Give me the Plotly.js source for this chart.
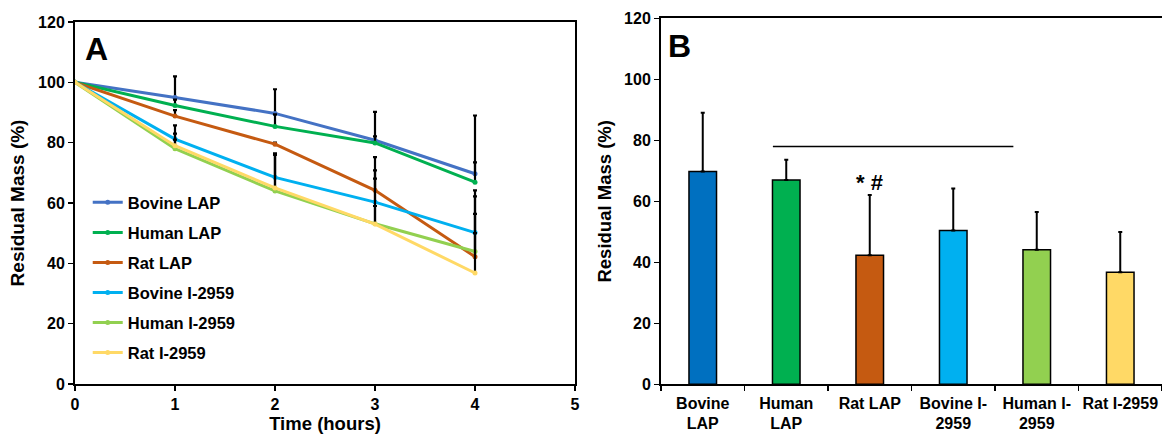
<!DOCTYPE html>
<html>
<head>
<meta charset="utf-8">
<script src="https://cdn.plot.ly/plotly-3.0.1.min.js"></script>
<style>html,body{margin:0;padding:0;background:#fff;}#chart{width:1162px;height:434px;}</style>
</head>
<body>
<div id="chart"></div>
<script>
// ---- Panel A data ----
const timeHours = [0, 1, 2, 3, 4];
const seriesNames = ["Bovine LAP", "Human LAP", "Rat LAP", "Bovine I-2959", "Human I-2959", "Rat I-2959"];
const bovineLAP   = [100, 95.0, 89.7, 80.8, 69.7];
const humanLAP    = [100, 92.3, 85.4, 79.9, 66.9];
const ratLAP      = [100, 88.8, 79.5, 64.2, 42.2];
const bovineI2959 = [100, 81.2, 68.5, 60.3, 50.2];
const humanI2959  = [100, 78.0, 64.0, 53.1, 43.9];
const ratI2959    = [100, 79.0, 65.0, 53.0, 36.8];
// upward error bars (panel A)
const errBovineLAP   = [0, 7.0, 8.0, 9.4, 19.3];
const errHumanLAP    = [0, 2.0, 4.0, 2.2, 6.6];
const errRatLAP      = [0, 2.0, 0.5, 11.0, 20.0];
const errBovineI2959 = [0, 4.5, 8.0, 10.5, 14.0];
const errHumanI2959  = [0, 3.0, 12.0, 15.0, 12.5];
const errRatI2959    = [0, 4.0, 11.0, 6.0, 13.2];
const lineColors = ["#4472C4", "#00B050", "#C55A11", "#00B0F0", "#92D050", "#FFD966"];

// ---- Panel B data ----
const barLabels = ["Bovine<br>LAP", "Human<br>LAP", "Rat LAP", "Bovine I-<br>2959", "Human I-<br>2959", "Rat I-2959"];
const barValues = [69.8, 67.0, 42.3, 50.4, 44.1, 36.7];
const barErrors = [19.2, 6.6, 19.8, 13.8, 12.4, 13.2];
const barColors = ["#0070C0", "#00B050", "#C55A11", "#00B0F0", "#92D050", "#FFD966"];
const sigLine = {from: 0.84, to: 3.72, level: 78};
const sigMark = {text: "* #", category: 2, level: 61.5};

const FONT = "Liberation Sans, Arial, sans-serif";
const seriesA = [bovineLAP, humanLAP, ratLAP, bovineI2959, humanI2959, ratI2959];
const errA = [errBovineLAP, errHumanLAP, errRatLAP, errBovineI2959, errHumanI2959, errRatI2959];
const zeros = timeHours.map(() => 0);

const traces = seriesA.map((ys, i) => ({
  type: "scatter", mode: "lines+markers",
  x: timeHours, y: ys, name: seriesNames[i], legendgroup: "g" + i,
  xaxis: "x", yaxis: "y",
  line: {color: lineColors[i], width: 3},
  marker: {color: lineColors[i], size: 5},
  error_y: {type: "data", symmetric: false, array: errA[i], arrayminus: zeros,
            color: "#000", thickness: 2.2, width: 2}
}));

traces.push({
  type: "bar", x: barLabels, y: barValues, xaxis: "x2", yaxis: "y2",
  showlegend: false,
  marker: {color: barColors, line: {color: "#000", width: 1.5}},
  error_y: {type: "data", symmetric: false, array: barErrors, arrayminus: barValues.map(() => 0),
            color: "#000", thickness: 2, width: 2}
});

const axisCommon = {
  showgrid: false, zeroline: false, showline: true, linecolor: "#000", linewidth: 2,
  mirror: true, ticks: "outside", ticklen: 5, tickwidth: 1.5, tickcolor: "#000",
  tickfont: {family: FONT, size: 16, color: "#000", weight: "bold"}
};

const layout = {
  width: 1162, height: 434,
  margin: {l: 0, r: 0, t: 0, b: 0},
  paper_bgcolor: "#fff", plot_bgcolor: "#fff",
  font: {family: FONT, color: "#000"},
  bargap: 0.67,
  showlegend: true,
  legend: {x: 0.0755, y: 0.5735, xanchor: "left", yanchor: "top",
           bgcolor: "rgba(0,0,0,0)", tracegroupgap: 5.6,
           font: {family: FONT, size: 16.5, color: "#000", weight: "bold"}},
  xaxis: Object.assign({}, axisCommon, {
    domain: [75/1162, 575/1162], range: [0, 5], dtick: 1, anchor: "y",
    title: {text: "Time (hours)", font: {family: FONT, size: 18.5, color: "#000", weight: "bold"}, standoff: 4}
  }),
  yaxis: Object.assign({}, axisCommon, {
    domain: [1 - 384/434, 1 - 22/434], range: [0, 120], dtick: 20, anchor: "x",
    title: {text: "Residual Mass (%)", font: {family: FONT, size: 19, color: "#000", weight: "bold"}, standoff: 8}
  }),
  xaxis2: Object.assign({}, axisCommon, {
    domain: [661/1162, 1], anchor: "y2", tickson: "boundaries", type: "category",
    tickangle: 0, automargin: false, ticklabelstandoff: 3,
    tickfont: {family: FONT, size: 16, color: "#000", weight: "bold"},
    title: {text: ""}
  }),
  yaxis2: Object.assign({}, axisCommon, {
    domain: [1 - 384.3/434, 1 - 18.3/434], range: [0, 120], dtick: 20, anchor: "x2",
    title: {text: "Residual Mass (%)", font: {family: FONT, size: 18.5, color: "#000", weight: "bold"}, standoff: 8}
  }),
  shapes: [{
    type: "line", xref: "x2", yref: "y2",
    x0: sigLine.from, x1: sigLine.to, y0: sigLine.level, y1: sigLine.level,
    line: {color: "#000", width: 1.5}
  }],
  annotations: [
    {text: "A", xref: "paper", yref: "paper", x: 83/1162, y: 1 - 29/434, xanchor: "left", yanchor: "top",
     showarrow: false, font: {family: FONT, size: 32, color: "#000", weight: "bold"}},
    {text: "B", xref: "paper", yref: "paper", x: 666/1162, y: 1 - 26/434, xanchor: "left", yanchor: "top",
     showarrow: false, font: {family: FONT, size: 32, color: "#000", weight: "bold"}},
    {text: sigMark.text, xref: "x2", yref: "y2", x: barLabels[sigMark.category], y: sigMark.level,
     showarrow: false, yanchor: "bottom", font: {family: FONT, size: 22, color: "#000", weight: "bold"}}
  ]
};

Plotly.newPlot("chart", traces, layout, {displayModeBar: false, staticPlot: true});
</script>
</body>
</html>
